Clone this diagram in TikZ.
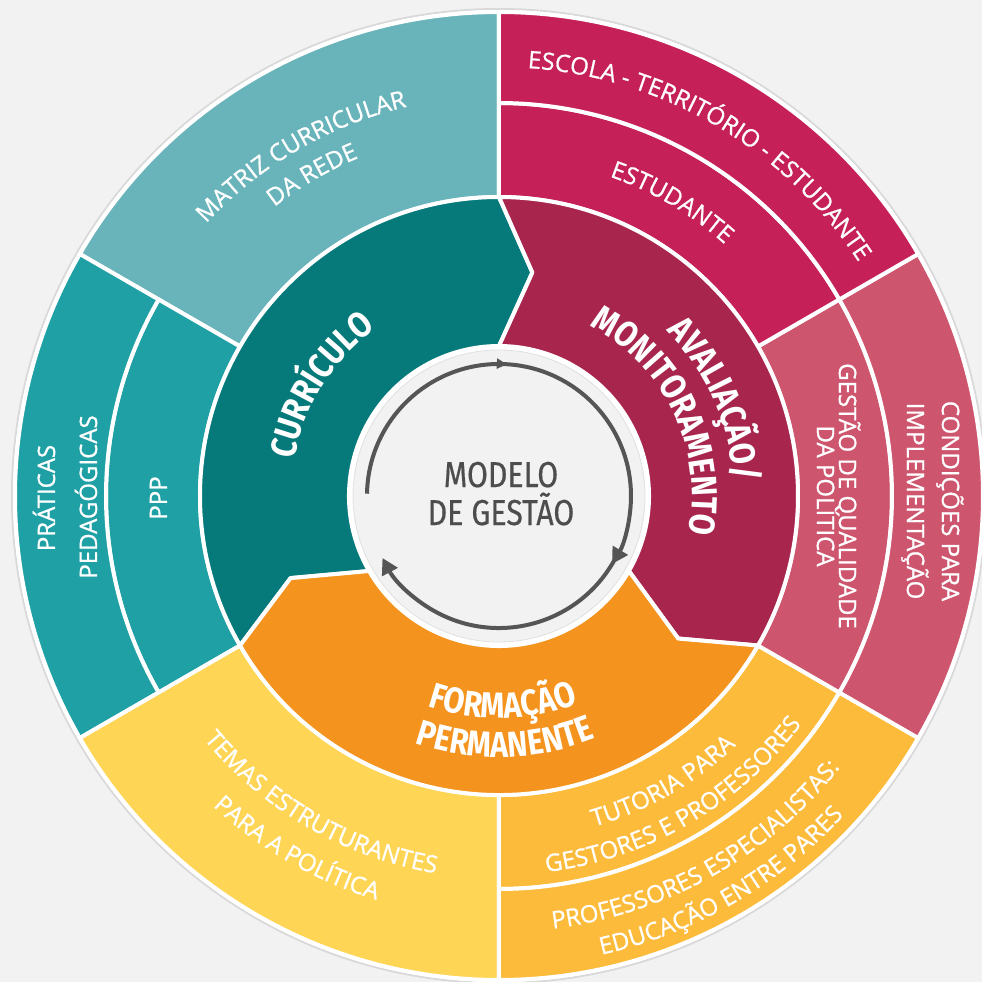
\documentclass[tikz,border=0pt]{standalone}
\usepackage{fontspec}
\setmainfont{Open Sans}
\newfontfamily\lblfam{Open Sans}[FakeBold=0.9]
\newfontfamily\headfont{Fira Sans}[FakeStretch=0.85]
\newfontfamily\modfont{Fira Sans}[FakeStretch=0.84,FakeBold=0.5]
\usetikzlibrary{decorations.text,decorations.markings,arrows.meta}
\definecolor{bgc}{HTML}{F2F2F2}
\definecolor{matriz}{HTML}{68B4BA}
\definecolor{praticas}{HTML}{1FA0A5}
\definecolor{curric}{HTML}{067A7A}
\definecolor{escola}{HTML}{C52058}
\definecolor{aval}{HTML}{A8264E}
\definecolor{gestao}{HTML}{CE556E}
\definecolor{formacao}{HTML}{F4931E}
\definecolor{temas}{HTML}{FED555}
\definecolor{tutoria}{HTML}{FCBB3A}
\definecolor{modeloc}{HTML}{4D4D4D}
\definecolor{arrowc}{HTML}{555555}
\newcommand\lblfont{\lblfam\fontsize{12}{14}\selectfont}
\newcommand\hdfont{\headfont\bfseries\fontsize{18}{20}\selectfont}
\newcommand\cwtext[4]{%
  \path[decorate,decoration={text along path,text align=center,text color=white,text={|#3|#4}}]
    ({#2+70}:#1) arc[start angle={#2+70},end angle={#2-70},radius=#1];}
\newcommand\ccwtext[4]{%
  \path[decorate,decoration={text along path,text align=center,text color=white,text={|#3|#4}}]
    ({#2-70}:#1) arc[start angle={#2-70},end angle={#2+70},radius=#1];}
\newcommand\sect[5]{%
  \filldraw[sectorline,fill=#1] (#4:#2) arc[start angle=#4,end angle=#5,radius=#2]
    -- (#5:#3) arc[start angle=#5,end angle=#4,radius=#3] -- cycle;}
\tikzset{
  sectorline/.style={draw=white,line width=2pt,line join=round},
  lbl/.style={text=white,font=\lblfont,inner sep=0pt},
  modelotext/.style={text=modeloc,font=\modfont\fontsize{18}{20}\selectfont,inner sep=0pt},
  cycleline/.style={draw=arrowc,line width=2pt},
}
\begin{document}
\begin{tikzpicture}[x=0.5pt,y=0.5pt]
\useasboundingbox (-499,-486) rectangle (483,496);
\fill[bgc] (-499,-486) rectangle (483,496);
% outer frame
\draw[black!15,line width=1pt] (0,0) circle[radius=487];
\fill[white] (0,0) circle[radius=486];
% outer bands
\sect{matriz}{299}{484}{90}{150}
\sect{praticas}{299}{393}{150}{210}
\sect{praticas}{393}{484}{150}{210}
\sect{temas}{299}{484}{210}{270}
\sect{tutoria}{299}{393}{270}{330}
\sect{tutoria}{393}{484}{270}{330}
\sect{gestao}{299}{393}{-30}{30}
\sect{gestao}{393}{484}{-30}{30}
\sect{escola}{299}{393}{30}{90}
\sect{escola}{393}{484}{30}{90}
% middle ring
\filldraw[sectorline,fill=curric] (90:299) arc[start angle=90,end angle=210,radius=299]
  -- (201.5:224) -- (210:150) arc[start angle=210,end angle=90,radius=150] -- (81.5:226) -- cycle;
\filldraw[sectorline,fill=aval] (90:299) arc[start angle=90,end angle=-30,radius=299]
  -- (-38.5:229) -- (-30:150) arc[start angle=-30,end angle=90,radius=150] -- (81.5:226) -- cycle;
\filldraw[sectorline,fill=formacao] (210:299) arc[start angle=210,end angle=330,radius=299]
  -- (-38.5:229) -- (330:150) arc[start angle=330,end angle=210,radius=150] -- (201.5:224) -- cycle;
% centre
\fill[white] (0,0) circle[radius=151];
\filldraw[fill=bgc,draw=black!12,line width=0.4pt] (0,0) circle[radius=146];
\draw[cycleline,-{Triangle[length=8pt,width=8.5pt]},
  postaction={decorate,decoration={markings,mark=at position 0.44 with {\arrow{Triangle[length=5pt,width=5pt]}}}}]
  (179:132) arc[start angle=179,end angle=-31,radius=132];
\draw[cycleline,-{Triangle[length=8pt,width=8.5pt]}]
  (-27:132) arc[start angle=-27,end angle=-152,radius=132];
\node[modelotext,anchor=base] (m1) at (2,9) {MODELO};
\node[modelotext,anchor=base] (m2) at (2,-29) {DE GESTÃO};
% headings
\cwtext{208}{148}{\hdfont}{CURRÍCULO}
\cwtext{235}{24}{\hdfont}{AVALIAÇÃO/}
\cwtext{193}{25.4}{\hdfont}{MONITORAMENTO}
\ccwtext{222}{271}{\hdfont}{FORMAÇÃO}
\ccwtext{261}{271.5}{\hdfont}{PERMANENTE}
% outer labels along arcs
\cwtext{400}{120.2}{\lblfont}{MATRIZ CURRICULAR}
\cwtext{366}{120.2}{\lblfont}{DA REDE}
\cwtext{429}{59.6}{\lblfont}{ESCOLA - TERRITÓRIO - ESTUDANTE}
\cwtext{338}{59.5}{\lblfont}{ESTUDANTE}
\ccwtext{382.5}{240}{\lblfont}{TEMAS ESTRUTURANTES}
\ccwtext{422}{240.2}{\lblfont}{PARA A POLÍTICA}
\ccwtext{344}{299.8}{\lblfont}{TUTORIA PARA}
\ccwtext{379}{300.1}{\lblfont}{GESTORES E PROFESSORES}
\ccwtext{436}{299.3}{\lblfont}{PROFESSORES ESPECIALISTAS:}
\ccwtext{470}{299.9}{\lblfont}{EDUCAÇÃO ENTRE PARES}
% straight side labels
\node[lbl,rotate=-90,anchor=base] (gq1) at (340,0) {GESTÃO DE QUALIDADE};
\node[lbl,rotate=-90,anchor=base] (gq2) at (318,0) {DA POLÍTICA};
\node[lbl,rotate=-90,anchor=base] (ci1) at (443,-5) {CONDIÇÕES PARA};
\node[lbl,rotate=-90,anchor=base] (ci2) at (408,-5) {IMPLEMENTAÇÃO};
\node[lbl,rotate=90,anchor=base] (pp1) at (-444,-2) {PRÁTICAS};
\node[lbl,rotate=90,anchor=base] (pp2) at (-402,-1) {PEDAGÓGICAS};
\node[lbl,rotate=90,anchor=base] (ppp) at (-332,-2) {PPP};
\end{tikzpicture}
\end{document}
